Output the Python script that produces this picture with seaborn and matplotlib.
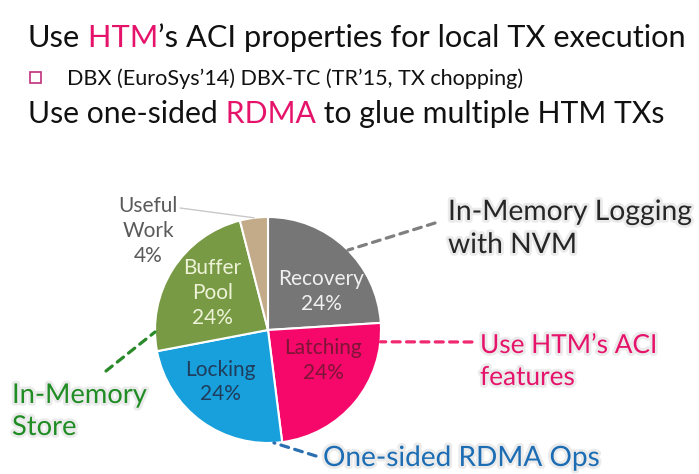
import matplotlib
matplotlib.use("Agg")
import matplotlib.pyplot as plt
import matplotlib.patheffects as pe
from matplotlib.patches import Rectangle
import numpy as np
import seaborn as sns

# breakdown of transaction time
slices = ["Recovery", "Latching", "Locking", "Buffer\nPool", "Useful\nWork"]
shares = [24, 24, 24, 24, 4]
slice_colors = ["#767676", "#f5086a", "#17a0dc", "#789a45", "#c3aa88"]
label_colors = ["#f0f0f0", "#7e1436", "#1f3d5c", "#eef3d8", "#5a5a5a"]

# slide text
title_1 = [("Use", "#111111"), (" HTM", "#e6136b"), ("\u2019s ACI properties for local TX execution", "#111111")]
bullet_1 = "DBX (EuroSys\u201914) DBX-TC (TR\u201915, TX chopping)"
title_2 = [("Use one-sided", "#111111"), (" RDMA", "#e6136b"), (" to glue multiple HTM TXs", "#111111")]

# callouts: text lines, text colour, line colour, rim angle, line end, text x, baselines, width
callouts = [
    (["In-Memory Logging", "with NVM"], "#262626", "#7f7f7f", 45, (435, 223), 448, [220, 253], 244),
    (["Use HTM\u2019s ACI", "features"], "#e6136b", "#f0286f", -6, (472, 342), 480, [353, 385], 177),
    (["One-sided RDMA Ops"], "#1c6db4", "#2a6fb0", -87, (316, 456), 323, [466], 277),
    (["In-Memory", "Store"], "#1f8c24", "#2a8a2a", 181, (106, 371), 12, [403, 435], 135),
]

sns.set_theme(style="white")
plt.rcParams["font.family"] = ["Lato", "DejaVu Sans"]

W, H = 699, 474
fig = plt.figure(figsize=(W / 100, H / 100), dpi=100)
ov = fig.add_axes([0, 0, 1, 1])
ov.set_xlim(0, W)
ov.set_ylim(H, 0)
ov.axis("off")
renderer = fig.canvas.get_renderer()

cx, cy, rad = 268, 330, 113
ax = fig.add_axes([(cx - rad) / W, (H - cy - rad) / H, 2 * rad / W, 2 * rad / H])
ax.set_facecolor("none")
wedges, _ = ax.pie(shares, colors=slice_colors, startangle=90, counterclock=False,
                   wedgeprops=dict(edgecolor="white", linewidth=1.5))
ax.set_xlim(-1, 1)
ax.set_ylim(-1, 1)


def text_width(s, size):
    t = ov.text(0, 0, s, fontsize=size)
    w = t.get_window_extent(renderer).width
    t.remove()
    return w


def fit(s, width):
    return 20 * width / text_width(s, 20)


def runs(x, y, parts, size):
    for s, c in parts:
        t = ov.text(x, y, s, color=c, fontsize=size, va="baseline")
        x += t.get_window_extent(renderer).width


glow = [pe.Stroke(linewidth=4, foreground="#ebebeb"), pe.Normal()]

# header lines
runs(28, 47, title_1, fit("".join(p[0] for p in title_1), 658))
ov.add_patch(Rectangle((30, 72), 11, 11, fill=False, ec="#c0307a", lw=1.2))
ov.text(67, 85, bullet_1, color="#111111", fontsize=fit(bullet_1, 458), va="baseline")
runs(28, 123, title_2, fit("".join(p[0] for p in title_2), 637))

# slice labels inside the pie
lab_size = fit("Recovery", 86)
label_pos = [(0.47, 0.34), (0.49, -0.27), (-0.42, -0.46), (-0.49, 0.33)]
for name, share, col, (lx, ly) in zip(slices[:4], shares[:4], label_colors[:4], label_pos):
    ax.text(lx, ly, f"{name}\n{share}%", color=col, fontsize=lab_size,
            ha="center", va="center", linespacing=1.3)

# small slice labelled outside
ang = np.deg2rad(97)
ax.annotate(f"{slices[4]}\n{shares[4]}%", xy=(np.cos(ang), np.sin(ang)), xycoords="data",
            xytext=(148, 231), textcoords=ov.transData, color=label_colors[4],
            fontsize=lab_size, ha="center", va="center", linespacing=1.3)
ax.annotate("", xy=(np.cos(ang), np.sin(ang)), xycoords="data",
            xytext=(180, 208), textcoords=ov.transData,
            arrowprops=dict(arrowstyle="-", color="#c8c8c8", lw=1, shrinkA=0, shrinkB=0))

# dashed callouts
for lines, col, lcol, deg, end, tx, bases, width in callouts:
    a = np.deg2rad(deg)
    ax.annotate("", xy=(np.cos(a), np.sin(a)), xycoords="data",
                xytext=end, textcoords=ov.transData,
                arrowprops=dict(arrowstyle="-", color=lcol, lw=2.3, linestyle=(0, (2.5, 2)),
                                shrinkA=0, shrinkB=0))
    size = fit(max(lines, key=len), width)
    for s, b in zip(lines, bases):
        ov.text(tx, b, s, color=col, fontsize=size, va="baseline", path_effects=glow)

fig.savefig("out.png", dpi=100, facecolor="white")
